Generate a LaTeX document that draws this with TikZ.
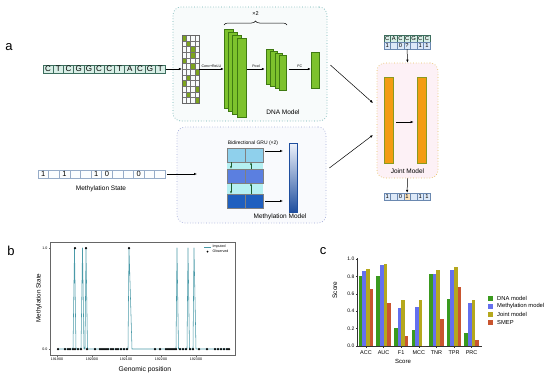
\documentclass[tikz,border=0pt]{standalone}
\usepackage{fontspec}
\setmainfont{Liberation Sans}
\usetikzlibrary{arrows.meta,decorations.pathreplacing,calc}
\definecolor{seqfill}{HTML}{D8EEE6}
\definecolor{seqborder}{HTML}{3D6E5E}
\definecolor{layergreen}{HTML}{7DC22D}
\definecolor{layerborder}{HTML}{3F7A12}
\definecolor{dnaborder}{HTML}{6AB0B0}
\definecolor{methborder}{HTML}{A0A8D8}
\definecolor{jointborder}{HTML}{E8C060}
\definecolor{jointfill}{HTML}{FDF1F6}
\definecolor{barorange}{HTML}{F39C12}
\definecolor{barolive}{HTML}{8A9A20}
\definecolor{rowblue}{HTML}{DDE9F8}
\definecolor{rowblueb}{HTML}{6A88B0}
\definecolor{hilite}{HTML}{FBE3BC}
\definecolor{gruA}{HTML}{8FD0EC}
\definecolor{gruB}{HTML}{5B7FE0}
\definecolor{gruC}{HTML}{1F5FBF}
\definecolor{gruband}{HTML}{B5F0F2}
\definecolor{gtop}{HTML}{EEF2FB}
\definecolor{gmid}{HTML}{2FA8D8}
\definecolor{gbot}{HTML}{1F4E9E}
\definecolor{arrgreen}{HTML}{1E5E2E}
\definecolor{imp}{HTML}{4A9AA8}
\definecolor{cdna}{HTML}{3A9A1E}
\definecolor{cmeth}{HTML}{6470EE}
\definecolor{cjoint}{HTML}{B5A81E}
\definecolor{csmep}{HTML}{C9552F}
\begin{document}
\begin{tikzpicture}[x=1pt,y=-1pt,
  arr/.style={-{Latex[length=3pt,width=2.4pt]},line width=0.5pt},
  smallarr/.style={-{Latex[length=2.4pt,width=2pt]},line width=0.55pt},
  seqcell/.style={draw=seqborder,fill=seqfill,minimum width=10.2pt,minimum height=8pt,inner sep=0pt,font=\fontsize{8}{8}\selectfont,line width=0.4pt},
  mcell/.style={draw=rowblueb!70,fill=white!90!rowblue,minimum width=10.6pt,minimum height=8pt,inner sep=0pt,font=\fontsize{7.5}{7.5}\selectfont,line width=0.4pt},
  tcellA/.style={draw=seqborder,fill=seqfill,minimum width=6.6pt,minimum height=7pt,inner sep=0pt,font=\fontsize{5.8}{5.8}\selectfont,line width=0.35pt},
  tcellB/.style={draw=rowblueb,fill=rowblue,minimum width=6.6pt,minimum height=7pt,inner sep=0pt,font=\fontsize{5.8}{5.8}\selectfont,line width=0.35pt},
  layer/.style={draw=layerborder,fill=layergreen,line width=0.4pt,inner sep=0pt},
  modelbox/.style={rounded corners=8pt,dotted,line width=0.7pt,inner sep=0pt},
  grucell/.style={draw=black!50,line width=0.3pt,minimum width=18pt,minimum height=14pt,inner sep=0pt},
  jbar/.style={draw=barolive,fill=barorange,line width=0.8pt,minimum width=9pt,minimum height=86pt,inner sep=0pt},
  tiny/.style={font=\fontsize{3.6}{4}\selectfont,inner sep=0.5pt},
  lbl/.style={font=\fontsize{6.5}{7}\selectfont,inner sep=0pt},
  panel/.style={font=\fontsize{13}{13}\selectfont,inner sep=0pt}
]
\useasboundingbox (0,0) rectangle (550,378);
\fill[white] (0,0) rectangle (550,378);

% ---------- panel a ----------
\node[panel] (la) at (9,47) {a};

\node[modelbox,draw=dnaborder,fill=dnaborder!5,minimum width=154pt,minimum height=114pt] (dnabox) at (250,64) {};
\node[modelbox,draw=methborder,fill=methborder!6,minimum width=149pt,minimum height=96pt] (methbox) at (251.5,175) {};
\node[modelbox,draw=jointborder,fill=jointfill,minimum width=61pt,minimum height=115pt] (jointbox) at (407.5,120.5) {};

% DNA sequence
\foreach \c [count=\i] in {C,T,C,G,G,C,C,T,A,C,G,T}
  \node[seqcell] (s\i) at ({43+10.2*(\i-0.5)},69) {\c};

% one-hot matrix
\node[draw=black!60,line width=0.3pt,minimum width=17pt,minimum height=68pt,inner sep=0pt] (onehot) at (190.5,69) {};
\foreach \r/\c in {1/1,2/2,3/3,4/3,5/1,6/3,7/4,8/2,9/1,10/4,11/2,12/4}
  \fill[barolive!90!green] ({182+4.25*(\c-1)},{35+5.667*(\r-1)}) rectangle ++(4.25,5.667);
\foreach \k in {1,2,3}
  \draw[black!55,line width=0.25pt] ({182+4.25*\k},35) -- ({182+4.25*\k},103);
\foreach \k in {1,...,11}
  \draw[black!55,line width=0.25pt] (182,{35+5.667*\k}) -- (199,{35+5.667*\k});
\draw[black!60,line width=0.3pt] (182,35) rectangle (199,103);

\draw[arr] (s12.east) -- (onehot.west);

% conv layers
\foreach \k in {0,1,2,3}
  \node[layer,minimum width=9pt,minimum height=79pt] (L\k) at ({228.5+4.3*\k},{68.5+3*\k}) {};
\draw[arr] (onehot.east) -- node[tiny,above=0.5pt] (convlbl) {Conv+ReLU} (L0.west |- onehot.east);

% brace
\coordinate (brA) at (224,25);
\coordinate (brB) at (287,25);
\draw[decorate,decoration={brace,amplitude=4pt},line width=0.5pt] (brA) -- (brB);
\node[font=\fontsize{5.5}{6}\selectfont,inner sep=0pt] (times2) at (255.5,14) {×2};

% pool layers
\foreach \k in {0,1,2,3}
  \node[layer,minimum width=7pt,minimum height=35pt] (P\k) at ({269.5+4.5*\k},{66.5+2*\k}) {};
\draw[arr] ($(L3.east |- onehot.east)+(1,0)$) -- node[tiny,above=0.5pt] (poollbl) {Pool} ($(P0.west |- onehot.east)+(-1,0)$);

% FC
\node[layer,minimum width=8pt,minimum height=36pt] (fc) at (315,70) {};
\draw[arr] ($(P3.east |- onehot.east)+(2,0)$) -- node[tiny,above=0.5pt] (fclbl) {FC} (fc.west |- onehot.east);

\node[lbl] (dnalbl) at (283,112) {DNA Model};

% methylation state row
\foreach \c [count=\i] in {1,,1,,,1,0,,,0,,}
  \node[mcell] (m\i) at ({38+10.6*(\i-0.5)},174) {\c};
\node[lbl] (mslbl) at (101,189) {Methylation State};
\coordinate (methin) at (197,174);
\draw[arr] ($(m12.east)+(2,0)$) -- (methin);

% GRU
\fill[gruband] (227,148) rectangle (263,208);
\node[grucell,fill=gruA] (g11) at (236,155) {};
\node[grucell,fill=gruA] (g12) at (254,155) {};
\node[grucell,fill=gruB] (g21) at (236,176) {};
\node[grucell,fill=gruB] (g22) at (254,176) {};
\node[grucell,fill=gruC] (g31) at (236,201) {};
\node[grucell,fill=gruC] (g32) at (254,201) {};
\draw[smallarr,arrgreen] ($(g11.south)+(-5,0)$) -- ($(g21.north)+(-5,0)$);
\draw[smallarr,arrgreen] ($(g21.south)+(-5,0)$) -- ($(g31.north)+(-5,0)$);
\draw[smallarr,arrgreen] ($(g22.north)+(-3,0)$) -- ($(g12.south)+(-3,0)$);
\draw[smallarr,arrgreen] ($(g32.north)+(-3,0)$) -- ($(g22.south)+(-3,0)$);
\node[font=\fontsize{5}{5}\selectfont,inner sep=0pt] (grulbl) at (253,143) {Bidirectional GRU (×2)};

\node[draw=gbot,line width=0.3pt,minimum width=8pt,minimum height=69pt,inner sep=0pt,
  top color=gtop,middle color=gmid,bottom color=gbot] (gbar) at (293,177.5) {};
\coordinate (ga1) at (283,151);
\coordinate (ga2) at (283,201);
\draw[arr] ($(g12.east)+(2,-4)$) -- (ga1);
\draw[arr] ($(g32.east)+(2,0)$) -- (ga2);
\node[lbl] (methlbl) at (280,216.5) {Methylation Model};

% joint model
\foreach \c [count=\i] in {C,A,C,C,G,C,C}
  \node[tcellA] (ta\i) at ({384+6.6*(\i-0.5)},38.5) {\c};
\foreach \c [count=\i] in {1,,0,?,,1,1}
  \node[tcellB] (tb\i) at ({384+6.6*(\i-0.5)},45.5) {\c};
\draw[arr] (tb4.south) -- (jointbox.north);

\node[jbar] (jl) at (388.5,120) {};
\node[jbar] (jr) at (421.5,120) {};
\draw[arr] ($(jl.east)+(3,2)$) -- ($(jr.west)+(-3,2)$);
\node[lbl] (jointlbl) at (407.5,171) {Joint Model};

\foreach \c/\f [count=\i] in {1/rowblue,{}/rowblue,0/rowblue,1/hilite,{}/rowblue,1/rowblue,1/rowblue}
  \node[tcellB,fill=\f] (o\i) at ({384+6.6*(\i-0.5)},196.5) {\c};
\draw[arr] (jointbox.south) -- (o4.north);

\coordinate (jin1) at (373,103);
\coordinate (jin2) at (373,135);
\draw[arr] ($(dnabox.east)+(3,1)$) -- (jin1);
\draw[arr] ($(methbox.east)+(3,-7)$) -- (jin2);

% ---------- panel b ----------
\node[panel] (lb) at (11,251) {b};
\draw[black!60,line width=0.4pt] (50,242) rectangle (235,355);
\draw[black!60,line width=0.3pt] (50,248) -- (48.5,248) (50,349) -- (48.5,349);
\node[tiny,anchor=east] (yt1) at (48,248) {1.0};
\node[tiny,anchor=east] (yt0) at (48,349) {0.0};
\foreach \x/\t in {57/191900,92/192000,126/192100,161/192200,196/192300}{
  \draw[black!60,line width=0.3pt] (\x,355) -- (\x,356.5);
  \node[tiny] at (\x,359) {\t};
}
\node[font=\fontsize{6.3}{7}\selectfont,rotate=90,inner sep=0pt] (ylb) at (39,298) {Methylation State};
\node[font=\fontsize{6.8}{7}\selectfont,inner sep=0pt] (xlb) at (145,370) {Genomic position};
\draw[imp,line width=0.55pt,line join=round]
  (58,349) -- (73,349) -- (74.5,248) -- (76,349) -- (81,349) -- (82.5,248) -- (84,349)
  -- (85,349) -- (86,248) -- (87.5,349) -- (128,349) -- (129,248) -- (132,349)
  -- (176,349) -- (177,248) -- (178.5,349) -- (187,349) -- (188,248) -- (189.5,349)
  -- (193,349) -- (194,248) -- (196,349) -- (229,349);
\foreach \x in {58,65,68,70,73,75,78,81,87,95,100,102,104,106,108,111,113,116,118,121,124,127,155,160,166,168,170,172,174,176,180,183,186,190,193,199,207,215,218,221,224,227,229}
  \fill (\x,349) circle (1.25pt);
\foreach \x in {75,86,129}
  \fill (\x,248) circle (1.25pt);
\draw[imp,line width=0.5pt] (204,247) -- (211,247);
\node[tiny,anchor=west] (legimp) at (212,247) {Imputed};
\fill (207.5,251.5) circle (1pt);
\node[tiny,anchor=west] (legobs) at (212,251.5) {Observed};

% ---------- panel c ----------
\node[panel] (lc) at (323,251) {c};
\draw[black!80,line width=0.4pt] (357,258) -- (357,346) -- (482,346);
\foreach \v in {0.0,0.2,0.4,0.6,0.8,1.0}{
  \draw[black!80,line width=0.4pt] (357,{346-87*\v}) -- (355.5,{346-87*\v});
  \node[font=\fontsize{5}{5}\selectfont,anchor=east,inner sep=0.5pt] at (355,{346-87*\v}) {\v};
}
\foreach \g/\a/\b/\c/\d [count=\i from 0] in {ACC/0.81/0.86/0.88/0.66,AUC/0.81/0.93/0.94/0.50,F1/0.21/0.44/0.53/0.12,MCC/0.18/0.45/0.53/0,TNR/0.83/0.83/0.87/0.31,TPR/0.54/0.87/0.91/0.68,PRC/0.15/0.49/0.53/0.07}{
  \pgfmathsetmacro\cx{366+17.6*\i}
  \fill[cdna] ({\cx-7.2},346) rectangle ({\cx-3.6},{346-87*\a});
  \fill[cmeth] ({\cx-3.6},346) rectangle ({\cx},{346-87*\b});
  \fill[cjoint] ({\cx},346) rectangle ({\cx+3.6},{346-87*\c});
  \fill[csmep] ({\cx+3.6},346) rectangle ({\cx+7.2},{346-87*\d});
  \draw[black!80,line width=0.4pt] (\cx,346) -- (\cx,347.8);
  \node[font=\fontsize{5.5}{6}\selectfont,inner sep=0pt] (cat\i) at (\cx,352.5) {\g};
}
\node[font=\fontsize{6}{6}\selectfont,inner sep=0pt] (cxl) at (403,361) {Score};
\node[font=\fontsize{6.5}{7}\selectfont,rotate=90,inner sep=0pt] (cyl) at (335,290) {Score};
\foreach \col/\t [count=\i from 0] in {cdna/DNA model,cmeth/Methylation model,cjoint/Joint model,csmep/SMEP}{
  \fill[\col] (488,{295.5+8.3*\i}) rectangle ++(5,5);
  \node[font=\fontsize{5.8}{6}\selectfont,anchor=west,inner sep=0pt] (leg\i) at (497,{298+8.3*\i}) {\t};
}
\end{tikzpicture}
\end{document}
